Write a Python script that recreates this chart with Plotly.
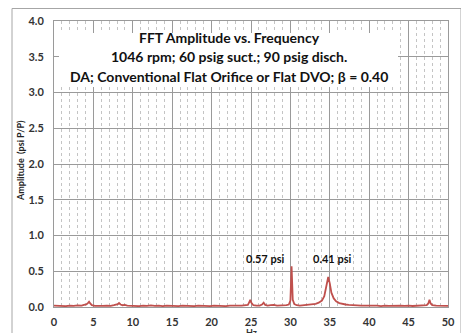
import plotly.graph_objects as go

# ---- data ----
freq = [0.0, 0.5, 1.0, 1.5, 2.0, 2.5, 3.0, 3.5, 3.8, 4.1, 4.3, 4.45, 4.6, 4.8, 5.2, 5.7, 6.2, 6.7, 7.2, 7.6,
        7.9, 8.1, 8.25, 8.45, 8.7, 9.0, 9.3, 9.8, 10.3, 10.8, 11.3, 11.8, 12.3, 12.8, 13.3, 13.8, 14.3, 14.8,
        15.3, 15.8, 16.3, 16.8, 17.3, 17.8, 18.3, 18.8, 19.3, 19.8, 20.3, 20.8, 21.3, 21.8, 22.3, 22.8, 23.3,
        23.8, 24.3, 24.6, 24.8, 24.9, 25.05, 25.3, 25.7, 26.1, 26.4, 26.6, 26.8, 27.1, 27.5, 27.9, 28.3, 28.7,
        29.1, 29.5, 29.8, 30.0, 30.15, 30.3, 30.5, 30.8, 31.2, 31.6, 32.0, 32.4, 32.8, 33.2, 33.6, 34.0, 34.3,
        34.6, 34.8, 35.0, 35.2, 35.5, 35.8, 36.2, 36.6, 37.0, 37.4, 37.8, 38.2, 38.6, 39.0, 39.5, 40.0, 40.5,
        41.0, 41.5, 42.0, 42.5, 43.0, 43.5, 44.0, 44.5, 45.0, 45.5, 46.0, 46.5, 47.0, 47.3, 47.5, 47.65, 47.8,
        48.0, 48.5, 49.0, 49.5, 50.0]
amp = [0.02, 0.015, 0.02, 0.012, 0.02, 0.015, 0.022, 0.018, 0.03, 0.035, 0.055, 0.075, 0.05, 0.025, 0.015,
       0.02, 0.015, 0.018, 0.015, 0.025, 0.03, 0.04, 0.055, 0.035, 0.025, 0.03, 0.02, 0.015, 0.02, 0.012, 0.02,
       0.015, 0.022, 0.015, 0.02, 0.012, 0.02, 0.015, 0.018, 0.013, 0.02, 0.015, 0.018, 0.012, 0.02, 0.015,
       0.018, 0.013, 0.02, 0.015, 0.018, 0.012, 0.02, 0.015, 0.02, 0.018, 0.022, 0.03, 0.07, 0.1, 0.06, 0.025,
       0.018, 0.02, 0.035, 0.06, 0.03, 0.02, 0.025, 0.03, 0.02, 0.022, 0.02, 0.025, 0.035, 0.09, 0.57, 0.1,
       0.04, 0.025, 0.02, 0.025, 0.02, 0.03, 0.035, 0.045, 0.06, 0.09, 0.15, 0.3, 0.42, 0.33, 0.2, 0.12, 0.08,
       0.055, 0.04, 0.035, 0.03, 0.025, 0.022, 0.02, 0.02, 0.018, 0.02, 0.015, 0.02, 0.013, 0.02, 0.015, 0.018,
       0.013, 0.02, 0.015, 0.02, 0.014, 0.018, 0.02, 0.022, 0.025, 0.05, 0.1, 0.05, 0.025, 0.018, 0.015, 0.02,
       0.015]

peak_labels = ["0.57 psi", "0.41 psi"]
peak_label_x = [26.8, 35.3]
peak_label_y = [0.68, 0.68]

title_lines = ["FFT Amplitude vs. Frequency",
               "1046 rpm; 60 psig suct.; 90 psig disch.",
               "DA; Conventional Flat Orifice or Flat DVO; \u03b2 = 0.40"]

x_ticks = [0, 5, 10, 15, 20, 25, 30, 35, 40, 45, 50]
y_ticks = [0.0, 0.5, 1.0, 1.5, 2.0, 2.5, 3.0, 3.5, 4.0]

FONT = "Lato"
RED = "#C0504D"

fig = go.Figure()
fig.add_trace(go.Scatter(x=freq, y=amp, mode="lines",
                         line=dict(color=RED, width=1.8), showlegend=False))

# page has an 8px body margin; plot area sits at page x 54..448, y 21..307
OFF = 8
PL, PR, PT, PB = 54, 448, 21, 307
W, H = 469 - OFF, 333 - OFF
L, T = PL - OFF, PT - OFF
R, B = W - (PR - OFF), H - (PB - OFF)
pw, ph = PR - PL, PB - PT


def px_x(p):
    return (p - PL) / pw


def px_y(p):
    return (PB - p) / ph


shapes = [
    # outer chart border
    dict(type="rect", xref="paper", yref="paper", x0=px_x(12), x1=px_x(461), y0=px_y(345), y1=px_y(8.5),
         line=dict(color="#a6a6a6", width=1), fillcolor="rgba(0,0,0,0)", layer="below"),
    # white title box
    dict(type="rect", xref="paper", yref="paper", x0=px_x(59), x1=px_x(398), y0=px_y(87), y1=px_y(33),
         line=dict(width=0), fillcolor="white", layer="above"),
]

annotations = []
for txt, yy in zip(title_lines, [37, 57, 76]):
    annotations.append(dict(text="<b>" + txt + "</b>", xref="paper", yref="paper",
                            x=px_x(229), y=px_y(yy), showarrow=False,
                            font=dict(family=FONT, size=14, color="#111111"),
                            xanchor="center", yanchor="middle"))
for txt, xx, yy in zip(peak_labels, peak_label_x, peak_label_y):
    annotations.append(dict(text="<b>" + txt + "</b>", x=xx, y=yy, xref="x", yref="y",
                            showarrow=False, font=dict(family=FONT, size=11, color="#111111"),
                            xanchor="center", yanchor="middle"))
# axis titles placed explicitly
annotations.append(dict(text="<b>Amplitude  (psi P/P)</b>", xref="paper", yref="paper",
                        x=px_x(20), y=px_y(161), showarrow=False, textangle=-90,
                        font=dict(family=FONT, size=9, color="#222222"),
                        xanchor="center", yanchor="middle"))
annotations.append(dict(text="<b>Hz</b>", xref="paper", yref="paper",
                        x=px_x(251), y=px_y(325), showarrow=False,
                        font=dict(family=FONT, size=9, color="#333333"),
                        xanchor="center", yanchor="top"))

fig.update_layout(
    width=W, height=H,
    margin=dict(l=L, r=R, t=T, b=B, autoexpand=False),
    paper_bgcolor="white", plot_bgcolor="white",
    font=dict(family=FONT, color="#404040"),
    shapes=shapes, annotations=annotations,
    xaxis=dict(range=[0, 50], tickvals=x_ticks, ticktext=[str(v) for v in x_ticks],
               showgrid=True, gridcolor="#9a9a9a", gridwidth=1, automargin=False,
               minor=dict(dtick=1, showgrid=True, gridcolor="#c4c4c4", griddash="3px,3px", gridwidth=1),
               showline=True, linecolor="#9a9a9a", mirror=True, zeroline=False,
               ticks="outside", ticklen=5, tickcolor="rgba(0,0,0,0)",
               tickfont=dict(family=FONT, size=11, color="#333333", weight="bold")),
    yaxis=dict(range=[0, 4.0], tickvals=y_ticks, ticktext=["%.1f" % v for v in y_ticks],
               showgrid=True, gridcolor="#9a9a9a", gridwidth=1, automargin=False,
               showline=True, linecolor="#9a9a9a", mirror=True, zeroline=False,
               ticks="outside", ticklen=7, tickcolor="rgba(0,0,0,0)",
               tickfont=dict(family=FONT, size=11, color="#333333", weight="bold")),
)

fig.write_html("out.html")
